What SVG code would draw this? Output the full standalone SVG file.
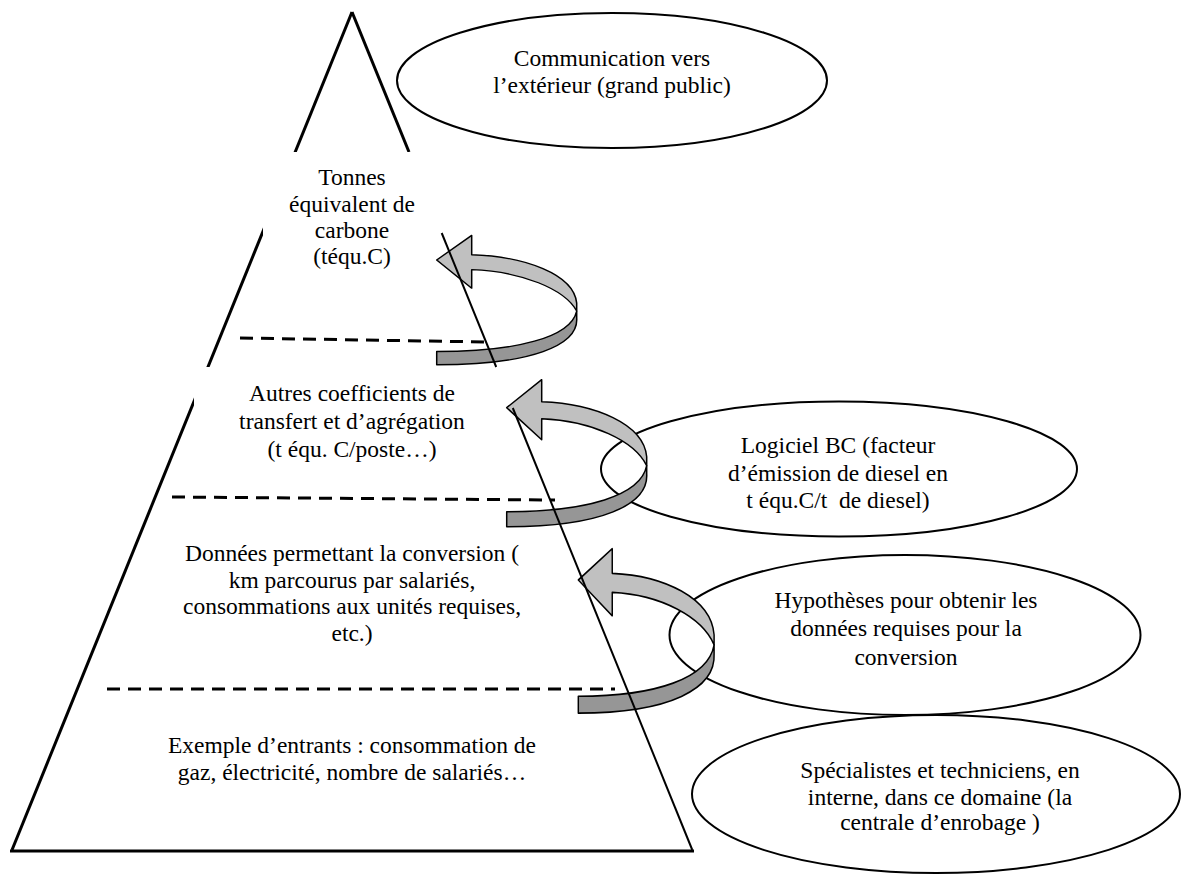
<svg xmlns="http://www.w3.org/2000/svg" width="1181" height="875" viewBox="0 0 1181 875">
<style>
  .t { font-family: "Liberation Serif", "Times New Roman", serif; font-size: 23.5px; fill: #000; text-anchor: middle; white-space: pre; }
  .thick { stroke: #000; stroke-width: 3; fill: none; stroke-linecap: butt; }
  .thin { stroke: #000; stroke-width: 2; fill: none; }
  .dash { stroke: #000; stroke-width: 3; fill: none; stroke-dasharray: 13 8; }
  .ell { stroke: #000; stroke-width: 2; fill: none; }
  .box { fill: #fff; stroke: none; }
  .light { fill: #c0c0c0; stroke: #000; stroke-width: 1.5; stroke-linejoin: round; }
  .dark { fill: #969696; stroke: #000; stroke-width: 1.5; stroke-linejoin: round; }
</style>
<defs>
  <path id="arrowDark" d="M140,58 C134,88 80,104 0,104 L0,119 C95,119 142,97 140,66 Z"/>
  <path id="arrowLight" d="M0,0 L35,-28 L35,-6 C88,-4 137,16 140,49 L140,58 C128,33 85,13 35,11 L35,32 Z"/>
</defs>
<rect width="1181" height="875" fill="#fff"/>

<g id="pyramid">
  <line class="thick" x1="352" y1="12" x2="12" y2="850"/>
  <line class="thick" x1="352" y1="12" x2="409" y2="152"/>
  <line class="thick" x1="10" y1="851" x2="694" y2="851"/>
  <line class="dash" x1="240" y1="338" x2="487" y2="342"/>
  <line class="dash" x1="172" y1="497" x2="555" y2="500"/>
  <line class="dash" x1="107" y1="689" x2="615" y2="689"/>
</g>

<g id="level-tonnes">
  <rect class="box" x="263" y="152" width="180" height="115"/>
  <text class="t" x="352" y="185">Tonnes</text>
  <text class="t" x="352" y="212">équivalent de</text>
  <text class="t" x="352" y="238">carbone</text>
  <text class="t" x="352" y="264">(téqu.C)</text>
</g>

<g id="level-coefficients">
  <rect class="box" x="194" y="367" width="318" height="100"/>
  <text class="t" x="352" y="401">Autres coefficients de</text>
  <text class="t" x="352" y="429">transfert et d’agrégation</text>
  <text class="t" x="352" y="457">(t équ. C/poste…)</text>
</g>

<g id="level-donnees">
  <text class="t" x="352" y="561">Données permettant la conversion (</text>
  <text class="t" x="352" y="588">km parcourus par salariés,</text>
  <text class="t" x="352" y="614">consommations aux unités requises,</text>
  <text class="t" x="352" y="641">etc.)</text>
</g>

<g id="level-entrants">
  <text class="t" x="352" y="753">Exemple d’entrants : consommation de</text>
  <text class="t" x="352" y="780">gaz, électricité, nombre de salariés…</text>
</g>

<g id="ellipse-communication">
  <ellipse class="ell" cx="612" cy="80.5" rx="215" ry="67.5"/>
  <text class="t" x="612" y="66">Communication vers</text>
  <text class="t" x="612" y="93">l’extérieur (grand public)</text>
</g>

<g id="ellipse-logiciel">
  <ellipse class="ell" cx="839" cy="469" rx="238" ry="67.5"/>
  <text class="t" x="838" y="453">Logiciel BC (facteur</text>
  <text class="t" x="838" y="481">d’émission de diesel en</text>
  <text class="t" x="838" y="508">t équ.C/t  de diesel)</text>
</g>

<g id="ellipse-hypotheses">
  <ellipse class="ell" cx="905" cy="635" rx="235.5" ry="80"/>
  <text class="t" x="906" y="608">Hypothèses pour obtenir les</text>
  <text class="t" x="906" y="636">données requises pour la</text>
  <text class="t" x="906" y="665">conversion</text>
</g>

<g id="ellipse-specialistes">
  <ellipse class="ell" cx="936" cy="794" rx="244" ry="79"/>
  <text class="t" x="940" y="778">Spécialistes et techniciens, en</text>
  <text class="t" x="940" y="805">interne, dans ce domaine (la</text>
  <text class="t" x="940" y="830">centrale d’enrobage )</text>
</g>

<g id="connectors">
  <g transform="translate(436.7,260) scale(1,0.88)">
    <use href="#arrowDark" class="dark" vector-effect="non-scaling-stroke"/>
    <use href="#arrowLight" class="light" vector-effect="non-scaling-stroke"/>
  </g>
  <g transform="translate(506.7,407.7)">
    <use href="#arrowDark" class="dark"/>
    <use href="#arrowLight" class="light"/>
  </g>
  <g transform="translate(578.3,580) scale(0.97,1.118)">
    <use href="#arrowDark" class="dark" vector-effect="non-scaling-stroke"/>
    <use href="#arrowLight" class="light" vector-effect="non-scaling-stroke"/>
  </g>
  <line class="thin" x1="441.7" y1="233" x2="496.2" y2="367"/>
  <line class="thin" x1="512.8" y1="408" x2="692.3" y2="850"/>
</g>
</svg>
